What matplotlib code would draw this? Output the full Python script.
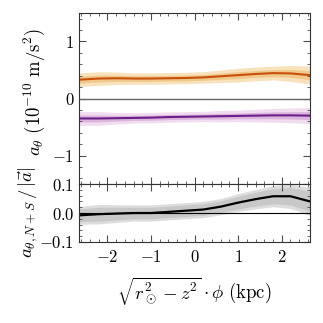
import numpy as np
from matplotlib import pyplot as plt

plt.rcParams['font.family'] = 'serif'
plt.rcParams['font.serif'] = ['DejaVu Serif']
plt.rcParams['mathtext.fontset'] = 'cm'
plt.rcParams['font.size'] = 12

# positions along the disc (kpc)
x = [-2.65, -2.2, -1.8, -1.4, -1.0, -0.6, -0.2, 0.2, 0.6, 1.0, 1.4, 1.8, 2.2, 2.65]

# north (orange) and south (purple) a_theta, 1e-10 m/s^2
north = [0.33, 0.35, 0.355, 0.35, 0.35, 0.355, 0.36, 0.37, 0.39, 0.41, 0.43, 0.445, 0.44, 0.41]
north_err = [0.06, 0.06, 0.055, 0.05, 0.05, 0.05, 0.05, 0.05, 0.055, 0.06, 0.06, 0.06, 0.07, 0.08]
south = [-0.35, -0.35, -0.345, -0.34, -0.335, -0.325, -0.32, -0.315, -0.31, -0.305, -0.30, -0.295, -0.295, -0.30]
south_err = [0.06, 0.06, 0.05, 0.045, 0.045, 0.045, 0.045, 0.045, 0.05, 0.05, 0.055, 0.06, 0.065, 0.07]

# normalised N+S
ratio = [-0.008, -0.004, -0.002, 0.0, 0.0, 0.004, 0.008, 0.012, 0.022, 0.036, 0.048, 0.058, 0.058, 0.04]
ratio_err = [0.022, 0.024, 0.022, 0.02, 0.02, 0.02, 0.02, 0.02, 0.02, 0.022, 0.024, 0.026, 0.03, 0.035]

x = np.array(x)
north, north_err = np.array(north), np.array(north_err)
south, south_err = np.array(south), np.array(south_err)
ratio, ratio_err = np.array(ratio), np.array(ratio_err)

fig = plt.figure(figsize=(3.23, 3.23), dpi=100)
ax1 = fig.add_axes([0.245, 0.430, 0.715, 0.530])
ax2 = fig.add_axes([0.245, 0.251, 0.715, 0.179], sharex=ax1)

ax1.fill_between(x, north - 2*north_err, north + 2*north_err, color='#f7e2bd', lw=0)
ax1.fill_between(x, north - north_err, north + north_err, color='#f0c98a', lw=0)
ax1.plot(x, north, color='#c9500c', lw=1.5)
ax1.fill_between(x, south - 2*south_err, south + 2*south_err, color='#f1dcf0', lw=0)
ax1.fill_between(x, south - south_err, south + south_err, color='#dcb4dc', lw=0)
ax1.plot(x, south, color='#6a1f8a', lw=1.5)
ax1.axhline(0, color='0.4', lw=1)

ax2.fill_between(x, ratio - 1.4*ratio_err, ratio + 1.4*ratio_err, color='#dddddd', lw=0)
ax2.fill_between(x, ratio - ratio_err, ratio + ratio_err, color='#c8c8c8', lw=0)
ax2.plot(x, ratio, color='k', lw=1.6)
ax2.axhline(0, color='k', lw=0.8)

ax1.set_xlim(-2.65, 2.65)
ax1.set_ylim(-1.5, 1.5)
ax1.set_yticks([-1, 0, 1])
ax1.set_yticklabels(['$-1$', '$0$', '$1$'])
ax2.set_ylim(-0.1, 0.1)
ax2.set_yticks([-0.1, 0.0, 0.1])
ax2.set_yticklabels(['$-0.1$', '$0.0$', '$0.1$'])
ax2.set_xticks([-2, -1, 0, 1, 2])
ax2.set_xticklabels(['$-2$', '$-1$', '$0$', '$1$', '$2$'])
plt.setp(ax1.get_xticklabels(), visible=False)

for ax in (ax1, ax2):
    ax.minorticks_on()
    ax.tick_params(which='both', direction='in', top=True, right=True, colors='0.3', labelcolor='k')
    ax.tick_params(which='major', length=5)
    ax.tick_params(which='minor', length=2.5)
    for s in ax.spines.values():
        s.set_color('0.2')
ax2.tick_params(axis='x', pad=5)

ax1.set_ylabel(r'$a_\theta\ (10^{-10}\ \mathrm{m/s^2})$', fontsize=13.5)
ax2.set_ylabel(r'$a_{\theta,N+S}\,/\,|\vec{a}|$', fontsize=13.5)
ax1.yaxis.set_label_coords(-0.14, 0.54)
ax2.yaxis.set_label_coords(-0.17, 0.52)
ax2.set_xlabel(r'$\sqrt{r_\odot^2 - z^2}\cdot\phi\ (\mathrm{kpc})$', fontsize=13.5, labelpad=7)

fig.savefig('out.png', dpi=100)
